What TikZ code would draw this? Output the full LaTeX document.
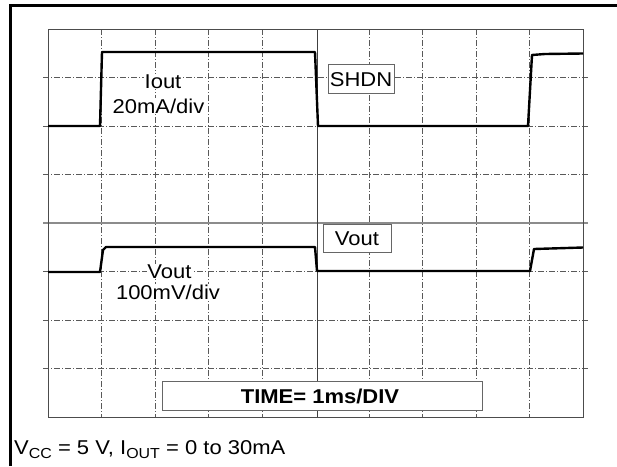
\documentclass[tikz,border=0pt]{standalone}
\usepackage{fontspec}
\setmainfont[FakeStretch=1.1]{Liberation Sans}
\begin{document}
\begin{tikzpicture}[x=1pt,y=-1pt,
  frame/.style={line width=2.6pt,black},
  gridbox/.style={line width=1pt,black!70},
  gridline/.style={line width=0.7pt,black!65,dash pattern=on 6pt off 2pt on 1pt off 2pt},
  midline/.style={line width=1.3pt,black!45},
  midvline/.style={line width=1pt,black!75},
  trace/.style={line width=2.4pt,black,line join=round},
  lbl/.style={font=\fontsize{20}{22}\selectfont,inner sep=0.5pt,fill=white,anchor=base},
  boxlbl/.style={font=\fontsize{20}{22}\selectfont,draw=black!60,line width=0.8pt,fill=white,anchor=base,inner xsep=1.5pt,inner ysep=0pt}
]
\useasboundingbox (0,0) rectangle (617,466);
% outer frame (open at right and bottom)
\draw[frame] (10.5,466) -- (10.5,5.5) -- (617,5.5);
% grid
\foreach \j in {1,2,3,5,6,7} \draw[gridline] (43,29+48.5*\j) -- (588,29+48.5*\j);
\draw[midline] (43,223) -- (588,223);
\foreach \i in {1,2,3,4,6,7,8,9} \draw[gridline] (48+53.5*\i,29) -- (48+53.5*\i,417);
\draw[midvline] (317.5,29) -- (317.5,417);
\draw[gridbox] (48,29) rectangle (583,417);
% traces
\draw[trace] (48,126) -- (100,126) -- (102,52) -- (315,52) -- (318,126) -- (528,126) -- (532,55) -- (545,54) -- (583,53.5);
\draw[trace] (48,272) -- (100,272) -- (103,250) -- (106,247) -- (315,247) -- (317,271) -- (530,271) -- (534,249) -- (583,247.5);
% labels
\node[lbl] (iout) at (163,88) {Iout};
\node[lbl] (iscale) at (158.5,113) {20mA/div};
\node[lbl] (vout) at (169.5,278) {Vout};
\node[lbl] (vscale) at (168,299) {100mV/div};
\node[boxlbl,minimum width=66pt,minimum height=29pt] (shdn) at (361,86) {SHDN};
\node[boxlbl,minimum width=68pt,minimum height=28pt] (voutbox) at (357,245) {Vout};
\draw[black!60,line width=0.8pt,fill=white] (162,381) rectangle (482,410);
\node[font=\bfseries\fontsize{20}{22}\selectfont,anchor=base,inner sep=0pt] (time) at (320,403) {TIME= 1ms/DIV};
\node[font=\fontsize{20}{22}\selectfont,anchor=base west,inner sep=0pt] (cond) at (14,454) {V\raisebox{-4pt}{\fontsize{14.5}{16}\selectfont CC} = 5 V, I\raisebox{-4pt}{\fontsize{14.5}{16}\selectfont OUT} = 0 to 30mA};
\end{tikzpicture}
\end{document}
